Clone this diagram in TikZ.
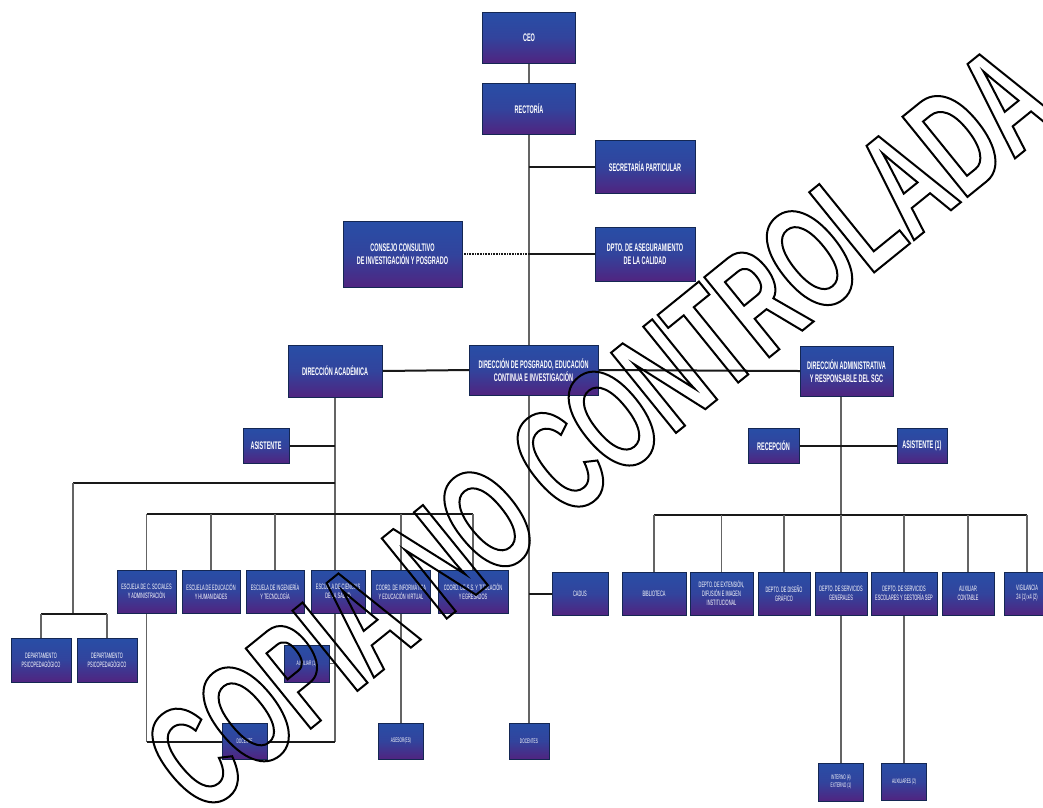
\documentclass[tikz,border=0pt]{standalone}
\usepackage{fontspec}
\usetikzlibrary{backgrounds}
\newfontfamily\boxfnt{Liberation Sans}[FakeStretch=0.5]
\newfontfamily\wmfnt{Liberation Sans}[FakeStretch=0.6]
\definecolor{bxblue}{RGB}{40,78,166}
\definecolor{bxpurp}{RGB}{80,36,128}
\definecolor{lnthick}{RGB}{25,25,25}
\definecolor{lnthin}{RGB}{100,100,100}
\tikzset{
 box/.style={inner sep=1pt, align=center, text=white, top color=bxblue, bottom color=bxpurp, middle color=bxblue!75!bxpurp, draw=bxblue!50!black, line width=0.4pt},
 big/.style={box, font=\boxfnt\bfseries\fontsize{11}{12.5}\selectfont},
 mid/.style={box, font=\boxfnt\fontsize{7.8}{9}\selectfont},
 sml/.style={box, font=\boxfnt\fontsize{6.5}{8}\selectfont},
 hv/.style={line width=2pt, draw=lnthick},
 th/.style={line width=1.1pt, draw=lnthin},
 dotl/.style={line width=2.5pt, draw=lnthick, dash pattern=on 0.8pt off 0.8pt},
}
\begin{document}
\begin{tikzpicture}[x=1pt,y=-1pt]
\useasboundingbox (0,0) rectangle (1043,807);
% top
\node[big, minimum width=93pt, minimum height=51pt] (ceo) at (529,37.5) {CEO};
\node[big, minimum width=93pt, minimum height=51pt] (rect) at (529,108.5) {RECTORÍA};
\node[big, minimum width=100pt, minimum height=53pt] (secr) at (645,166.5) {SECRETARÍA PARTICULAR};
\node[big, minimum width=119pt, minimum height=66pt] (cons) at (402.5,254) {CONSEJO CONSULTIVO\\DE INVESTIGACIÓN Y POSGRADO};
\node[big, minimum width=100pt, minimum height=54pt] (dpto) at (645,254) {DPTO. DE ASEGURAMIENTO\\DE LA CALIDAD};
\node[big, minimum width=94pt, minimum height=52pt] (acad) at (335,371) {DIRECCIÓN ACADÉMICA};
\node[big, minimum width=129pt, minimum height=50pt] (posg) at (533.5,370) {DIRECCIÓN DE POSGRADO, EDUCACIÓN\\CONTINUA E INVESTIGACIÓN};
\node[big, minimum width=93pt, minimum height=50pt] (admin) at (846.5,371) {DIRECCIÓN ADMINISTRATIVA\\Y RESPONSABLE DEL SGC};
\node[big, minimum width=46pt, minimum height=35pt] (asis) at (266,445.5) {ASISTENTE};
\node[big, minimum width=51pt, minimum height=35pt] (recep) at (773.5,445.5) {RECEPCIÓN};
\node[big, minimum width=50pt, minimum height=35pt] (asis1) at (922,445.5) {ASISTENTE (1)};
% left row
\node[mid, minimum width=59pt, minimum height=43pt] (e1) at (146.5,591.5) {ESCUELA DE C. SOCIALES\\Y ADMINISTRACIÓN};
\node[mid, minimum width=58pt, minimum height=43pt] (e2) at (211,591.5) {ESCUELA DE EDUCACIÓN\\Y HUMANIDADES};
\node[mid, minimum width=58pt, minimum height=43pt] (e3) at (275,591.5) {ESCUELA DE INGENIERÍA\\Y TECNOLOGÍA};
\node[mid, minimum width=54pt, minimum height=43pt] (e4) at (338,591.5) {ESCUELA DE CIENCIAS\\DE LA SALUD};
\node[mid, minimum width=59pt, minimum height=43pt] (e5) at (401,591.5) {COORD. DE INFORMÁTICA\\Y EDUCACIÓN VIRTUAL};
\node[mid, minimum width=70pt, minimum height=43pt] (e6) at (473,591.5) {COORD. DE S.S. Y TITULACIÓN\\Y EGRESADOS};
\node[mid, minimum width=56pt, minimum height=43pt] (cadus) at (580,593.5) {CADUS};
% right row
\node[mid, minimum width=64pt, minimum height=43pt] (bib) at (654,593.5) {BIBLIOTECA};
\node[mid, minimum width=63pt, minimum height=43pt] (ext) at (721.5,593.5) {DEPTO. DE EXTENSIÓN,\\DIFUSIÓN E IMAGEN\\INSTITUCIONAL};
\node[mid, minimum width=52pt, minimum height=43pt] (dis) at (784,593.5) {DEPTO. DE DISEÑO\\GRÁFICO};
\node[mid, minimum width=52pt, minimum height=43pt] (sg) at (841,593.5) {DEPTO. DE SERVICIOS\\GENERALES};
\node[mid, minimum width=66pt, minimum height=43pt] (se) at (904,593.5) {DEPTO. DE SERVICIOS\\ESCOLARES Y GESTORÍA SEP};
\node[mid, minimum width=52pt, minimum height=43pt] (ac) at (968,593.5) {AUXILIAR\\CONTABLE};
\node[mid, minimum width=46pt, minimum height=43pt] (vig) at (1027,593.5) {VIGILANCIA\\24 (1) x4 (2)};
% lower
\node[mid, minimum width=60pt, minimum height=44pt] (psi1) at (41,660) {DEPARTAMENTO\\PSICOPEDAGÓGICO};
\node[mid, minimum width=60pt, minimum height=44pt] (psi2) at (107,660) {DEPARTAMENTO\\PSICOPEDAGÓGICO};
\node[sml, minimum width=45pt, minimum height=37pt] (aux) at (306.5,663.5) {AUXILIAR (1)};
\node[sml, minimum width=45pt, minimum height=36pt] (doc) at (244.5,741) {DOCENTE};
\node[sml, minimum width=45pt, minimum height=36pt] (ases) at (401,741) {ASESOR(ES)};
\node[sml, minimum width=40pt, minimum height=36pt] (docs) at (529,741) {DOCENTES};
\node[sml, minimum width=45pt, minimum height=38pt] (int) at (841,782) {INTERNO (4)\\EXTERNO (1)};
\node[sml, minimum width=45pt, minimum height=37pt] (auxs) at (904,781.5) {AUXILIARES (2)};
% coordinates
\coordinate (jA) at (335,483);
\coordinate (jL) at (73,483);
\coordinate (jP) at (73,614);
\coordinate (dL) at (41,614);
\coordinate (dR) at (107,614);
\coordinate (busL) at (146.5,514);
\coordinate (busR) at (473,514);
\coordinate (rbL) at (654,515);
\coordinate (rbR) at (1027,515);
\coordinate (bot) at (335,742);
\coordinate (botL) at (146.5,742);
\coordinate (adm) at (841,396);
\coordinate (admR) at (841,445.5);
% connectors behind boxes
\begin{pgfonlayer}{background}
\fill[white] (0,0) rectangle (1043,807);
% main spine
\draw[th] (ceo.south) -- (rect.north);
\draw[th] (rect.south) -- (rect.south |- posg.north);
\draw[hv] (secr.west) -- (secr.west -| rect.south);
\draw[dotl] (cons.east) -- (cons.east -| rect.south);
\draw[hv] (dpto.west) -- (dpto.west -| rect.south);
\draw[hv] (acad.east) -- (posg.west);
\draw[hv] (posg.east) -- (admin.west);
\draw[th] (docs.north |- posg.south) -- (docs.north);
\draw[hv] (cadus.west) -- (cadus.west -| docs.north);
% academic branch
\draw[th] (acad.south) -- (bot);
\draw[hv] (asis.east) -- (asis.east -| acad.south);
\draw[hv] (jA) -- (jL);
\draw[th] (jL) -- (jP);
\draw[hv] (dL) -- (dR);
\draw[th] (dL) -- (psi1.north);
\draw[th] (dR) -- (psi2.north);
\draw[hv] (busL) -- (busR);
\foreach \n in {e1,e2,e3,e5,e6} \draw[th] (\n.north |- busL) -- (\n.north);
\draw[th] (e1.south) -- (botL);
\draw[hv] (botL) -- (bot);
\draw[th] (aux.east) -- (aux.east -| acad.south);
\draw[th] (e5.south) -- (ases.north);
% administrative branch
\draw[th] (adm) -- (adm |- rbL);
\draw[hv] (recep.east) -- (asis1.west);
\draw[hv] (rbL) -- (rbR);
\foreach \n in {bib,ext,dis,sg,se,ac,vig} \draw[th] (\n.north |- rbL) -- (\n.north);
\draw[th] (sg.south) -- (int.north);
\draw[th] (se.south) -- (auxs.north);
\end{pgfonlayer}
% watermark
\node[rotate=39, font=\wmfnt\bfseries\fontsize{150}{150}\selectfont, inner sep=0pt] (wm) at (600,428)
 {\special{pdf:literal direct 1 Tr 2 w}COPIA NO CONTROLADA\special{pdf:literal direct 0 Tr}};
\end{tikzpicture}
\end{document}
